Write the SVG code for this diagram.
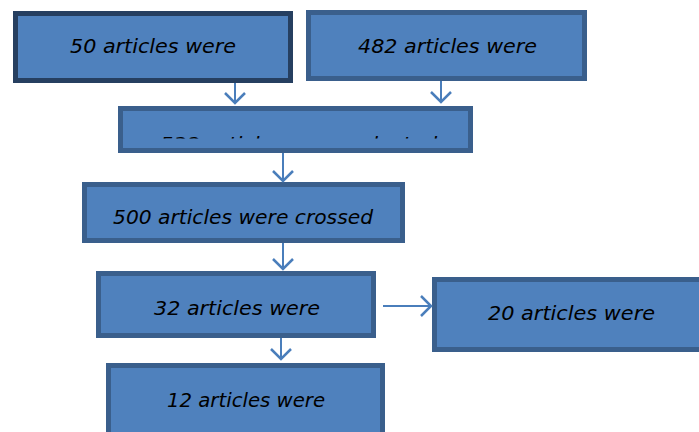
<svg xmlns="http://www.w3.org/2000/svg" width="699" height="432" viewBox="0 0 699 432">
<style>
.box{fill:#4F81BD;stroke:#3A5F8C;stroke-width:5}
.dark{stroke:#263F60}
.t{font-family:"DejaVu Sans","Liberation Sans",sans-serif;font-style:italic;font-size:19px;fill:#000;text-anchor:start}
.c{fill:none;stroke:#4A7EBB;stroke-width:2}
</style>
<defs>
<marker id="ah" viewBox="0 0 22 22" refX="20" refY="11" markerWidth="22" markerHeight="22" markerUnits="userSpaceOnUse" orient="auto">
<path d="M10,1 L20,11 L10,21" fill="none" stroke="#4A7EBB" stroke-width="2.5"/>
</marker>
<clipPath id="cl3" clipPathUnits="userSpaceOnUse"><rect x="118" y="100" width="356" height="38.5"/></clipPath>
</defs>
<rect width="699" height="432" fill="#fff"/>
<g id="n1"><rect class="box dark" x="15.5" y="13.5" width="275" height="67"/><text class="t" x="70" y="53" textLength="166" lengthAdjust="spacingAndGlyphs">50 articles were</text></g>
<g id="n2"><rect class="box" x="308.5" y="12.5" width="276" height="66"/><text class="t" x="358" y="53" textLength="179" lengthAdjust="spacingAndGlyphs">482 articles were</text></g>
<g id="n3"><rect class="box" x="120.5" y="108.5" width="350" height="42"/><g clip-path="url(#cl3)"><text class="t" x="160" y="150.5" textLength="277" lengthAdjust="spacingAndGlyphs">532 articles were selected</text></g></g>
<g id="n4"><rect class="box" x="84.5" y="184.5" width="318" height="56"/><text class="t" x="113" y="224" textLength="260" lengthAdjust="spacingAndGlyphs">500 articles were crossed</text></g>
<g id="n5"><rect class="box" x="98.5" y="273.5" width="275" height="62"/><text class="t" x="154" y="315" textLength="166" lengthAdjust="spacingAndGlyphs">32 articles were</text></g>
<g id="n6"><rect class="box" x="434.5" y="279.5" width="270" height="70"/><text class="t" x="488" y="320" textLength="167" lengthAdjust="spacingAndGlyphs">20 articles were</text></g>
<g id="n7"><rect class="box" x="108.5" y="365.5" width="274" height="80"/><text class="t" x="167" y="407" textLength="158" lengthAdjust="spacingAndGlyphs">12 articles were</text></g>
<g id="connectors">
<line class="c" x1="235" y1="83" x2="235" y2="103" marker-end="url(#ah)"/>
<line class="c" x1="441" y1="81" x2="441" y2="102" marker-end="url(#ah)"/>
<line class="c" x1="283" y1="153" x2="283" y2="181" marker-end="url(#ah)"/>
<line class="c" x1="283" y1="243" x2="283" y2="269" marker-end="url(#ah)"/>
<line class="c" x1="383" y1="306" x2="431" y2="306" marker-end="url(#ah)"/>
<line class="c" x1="281" y1="338" x2="281" y2="359" marker-end="url(#ah)"/>
</g>
</svg>
